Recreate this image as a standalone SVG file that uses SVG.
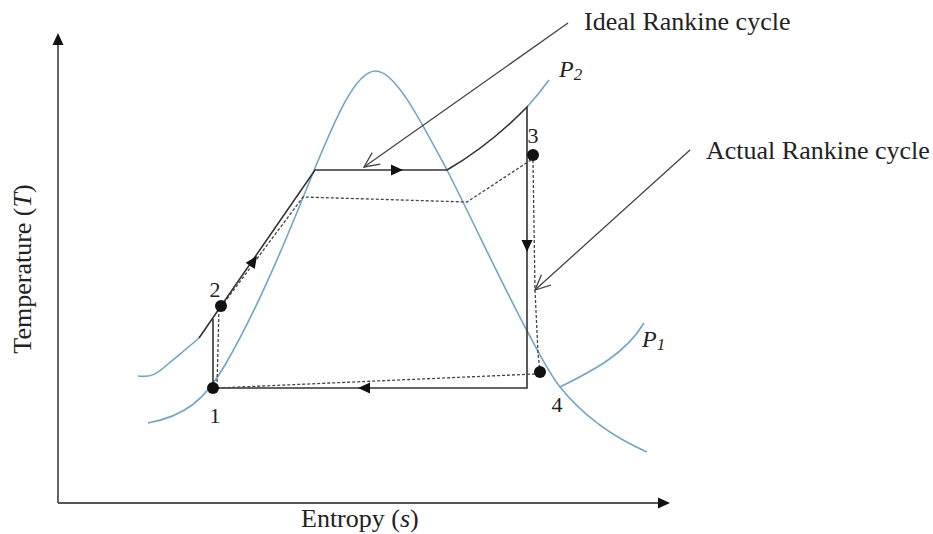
<svg xmlns="http://www.w3.org/2000/svg" xmlns:xlink="http://www.w3.org/1999/xlink" width="933" height="534" viewBox="0 0 933 534">
<style>
.bg{fill:#fff}
.blue{fill:none;stroke:#6ea7c9;stroke-width:1.6}
.ln{fill:none;stroke:#333;stroke-width:1.6}
.dot{fill:none;stroke:#444;stroke-width:1.3;stroke-dasharray:3 2}
.ax{fill:none;stroke:#555;stroke-width:1.8}
.lead{fill:none;stroke:#444;stroke-width:1.3;marker-end:url(#open)}
.pt{fill:#111}
.ah{fill:#111}
text{font-family:"Liberation Serif","Times New Roman",serif;fill:#222}
.lab{font-size:26px}
.num{font-size:22px;text-anchor:middle}
.p{font-size:24px;font-style:italic}
</style>
<defs>
<path id="ah" d="M0,0 L-12,-5.5 L-12,5.5 Z"/>
<marker id="open" viewBox="0 0 20 20" refX="19" refY="10" markerWidth="20" markerHeight="20" markerUnits="userSpaceOnUse" orient="auto">
<path d="M4,3 L19,10 L4,17" fill="none" stroke="#444" stroke-width="1.3"/>
</marker>
</defs>
<rect class="bg" x="0" y="0" width="933" height="534"/>

<g id="axes">
<line class="ax" x1="58" y1="503" x2="58" y2="44"/>
<line class="ax" x1="58" y1="503" x2="660" y2="503"/>
<use xlink:href="#ah" class="ah" transform="translate(58,33) rotate(-90)"/>
<use xlink:href="#ah" class="ah" transform="translate(670,503)"/>
<text class="lab" x="301" y="527">Entropy (<tspan font-style="italic">s</tspan>)</text>
<text class="lab" transform="translate(31,269) rotate(-90)" text-anchor="middle">Temperature (<tspan font-style="italic">T</tspan>)</text>
</g>

<g id="saturation-dome">
<path class="blue" d="M148,423 C185,416 205,400 225,365 C260,305 290,230 315,168 C335,120 355,72 375,71 C395,70 420,120 447,170 C470,215 500,280 525,327 C540,355 548,372 560,387 C585,418 615,438 647,452"/>
</g>

<g id="isobar-P2">
<path class="blue" d="M138,376 C152,378 158,373 168,364 C180,354 190,346 199,338"/>
<path class="blue" d="M527,107 Q538,95 549,80"/>
<text class="p" x="559" y="77">P<tspan font-size="17" dy="3">2</tspan></text>
</g>

<g id="isobar-P1">
<path class="blue" d="M560,387 C590,372 625,355 644,323"/>
<text class="p" x="642" y="347">P<tspan font-size="17" dy="3">1</tspan></text>
</g>

<g id="connectors">
<path class="ln" d="M213,388 L213,319"/>
<path class="ln" d="M199,338 L315,170 L447,170 Q490,145 527,107 L527,388 L213,388"/>
<path class="dot" d="M217,387 L219,306"/>
<path class="dot" d="M224,303 L303,197 L467,202 L531,160"/>
<path class="dot" d="M533,160 L535,290 L538,353 L540,372"/>
<path class="dot" d="M535,374 L217,388"/>
<use xlink:href="#ah" class="ah" transform="translate(403,170)"/>
<use xlink:href="#ah" class="ah" transform="translate(527,252) rotate(90)"/>
<use xlink:href="#ah" class="ah" transform="translate(358,388) rotate(180)"/>
<use xlink:href="#ah" class="ah" transform="translate(257,256) rotate(-55.4)"/>
<line class="lead" x1="568" y1="23" x2="364" y2="167"/>
<line class="lead" x1="690" y1="150" x2="535" y2="290"/>
</g>

<g id="state-1">
<circle class="pt" cx="213" cy="388" r="6"/>
<text class="num" x="215" y="423">1</text>
</g>
<g id="state-2">
<circle class="pt" cx="221" cy="306" r="6"/>
<text class="num" x="215" y="297">2</text>
</g>
<g id="state-3">
<circle class="pt" cx="533" cy="155" r="6"/>
<text class="num" x="533" y="143">3</text>
</g>
<g id="state-4">
<circle class="pt" cx="540" cy="372" r="6"/>
<text class="num" x="557" y="412">4</text>
</g>

<g id="label-ideal">
<text class="lab" x="584" y="30">Ideal Rankine cycle</text>
</g>
<g id="label-actual">
<text class="lab" x="706" y="159">Actual Rankine cycle</text>
</g>
</svg>
